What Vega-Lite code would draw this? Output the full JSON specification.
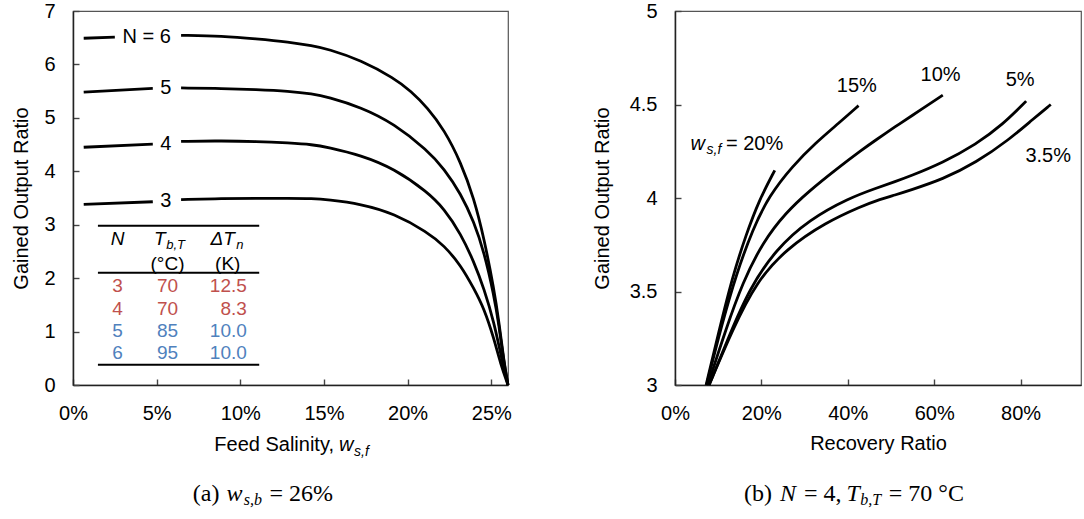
{
  "$schema": "https://vega.github.io/schema/vega-lite/v6.json",
  "padding": {"left": 11, "top": 0, "right": 0, "bottom": 0},
  "background": "white",
  "datasets": {
    "left_lines": [
      {"n": "6", "seg": "a", "ws": 0.0064, "gor": 6.49}, {"n": "6", "seg": "a", "ws": 0.025, "gor": 6.51},
      {"n": "6", "seg": "b", "ws": 0.0646, "gor": 6.545}, {"n": "6", "seg": "b", "ws": 0.0894, "gor": 6.53},
      {"n": "6", "seg": "b", "ws": 0.1093, "gor": 6.48}, {"n": "6", "seg": "b", "ws": 0.1292, "gor": 6.42},
      {"n": "6", "seg": "b", "ws": 0.1431, "gor": 6.35}, {"n": "6", "seg": "b", "ws": 0.1522, "gor": 6.29},
      {"n": "6", "seg": "b", "ws": 0.1721, "gor": 6.08}, {"n": "6", "seg": "b", "ws": 0.192, "gor": 5.74},
      {"n": "6", "seg": "b", "ws": 0.202, "gor": 5.5}, {"n": "6", "seg": "b", "ws": 0.2119, "gor": 5.19},
      {"n": "6", "seg": "b", "ws": 0.2218, "gor": 4.78}, {"n": "6", "seg": "b", "ws": 0.2318, "gor": 4.17},
      {"n": "6", "seg": "b", "ws": 0.2397, "gor": 3.49}, {"n": "6", "seg": "b", "ws": 0.2457, "gor": 2.74},
      {"n": "6", "seg": "b", "ws": 0.2516, "gor": 1.8}, {"n": "6", "seg": "b", "ws": 0.2546, "gor": 1.18},
      {"n": "6", "seg": "b", "ws": 0.2575, "gor": 0.45}, {"n": "6", "seg": "b", "ws": 0.26, "gor": 0},
      {"n": "5", "seg": "a", "ws": 0.0064, "gor": 5.48}, {"n": "5", "seg": "a", "ws": 0.0477, "gor": 5.55},
      {"n": "5", "seg": "b", "ws": 0.0646, "gor": 5.56}, {"n": "5", "seg": "b", "ws": 0.0894, "gor": 5.55},
      {"n": "5", "seg": "b", "ws": 0.1093, "gor": 5.53}, {"n": "5", "seg": "b", "ws": 0.1292, "gor": 5.5},
      {"n": "5", "seg": "b", "ws": 0.1431, "gor": 5.45}, {"n": "5", "seg": "b", "ws": 0.1522, "gor": 5.39},
      {"n": "5", "seg": "b", "ws": 0.1721, "gor": 5.2}, {"n": "5", "seg": "b", "ws": 0.192, "gor": 4.89},
      {"n": "5", "seg": "b", "ws": 0.2119, "gor": 4.39}, {"n": "5", "seg": "b", "ws": 0.2218, "gor": 4.05},
      {"n": "5", "seg": "b", "ws": 0.2318, "gor": 3.58}, {"n": "5", "seg": "b", "ws": 0.2397, "gor": 3.05},
      {"n": "5", "seg": "b", "ws": 0.2457, "gor": 2.49}, {"n": "5", "seg": "b", "ws": 0.2516, "gor": 1.68},
      {"n": "5", "seg": "b", "ws": 0.2546, "gor": 1.12}, {"n": "5", "seg": "b", "ws": 0.2575, "gor": 0.42},
      {"n": "5", "seg": "b", "ws": 0.26, "gor": 0},
      {"n": "4", "seg": "a", "ws": 0.0064, "gor": 4.45}, {"n": "4", "seg": "a", "ws": 0.0477, "gor": 4.51},
      {"n": "4", "seg": "b", "ws": 0.0646, "gor": 4.56}, {"n": "4", "seg": "b", "ws": 0.0894, "gor": 4.57},
      {"n": "4", "seg": "b", "ws": 0.1093, "gor": 4.56}, {"n": "4", "seg": "b", "ws": 0.1292, "gor": 4.53},
      {"n": "4", "seg": "b", "ws": 0.1431, "gor": 4.5}, {"n": "4", "seg": "b", "ws": 0.1522, "gor": 4.45},
      {"n": "4", "seg": "b", "ws": 0.1721, "gor": 4.3}, {"n": "4", "seg": "b", "ws": 0.192, "gor": 4.05},
      {"n": "4", "seg": "b", "ws": 0.2119, "gor": 3.61}, {"n": "4", "seg": "b", "ws": 0.2218, "gor": 3.3},
      {"n": "4", "seg": "b", "ws": 0.2318, "gor": 2.83}, {"n": "4", "seg": "b", "ws": 0.2397, "gor": 2.3},
      {"n": "4", "seg": "b", "ws": 0.2457, "gor": 1.8}, {"n": "4", "seg": "b", "ws": 0.2516, "gor": 1.18},
      {"n": "4", "seg": "b", "ws": 0.2565, "gor": 0.45}, {"n": "4", "seg": "b", "ws": 0.26, "gor": 0},
      {"n": "3", "seg": "a", "ws": 0.0064, "gor": 3.38}, {"n": "3", "seg": "a", "ws": 0.0477, "gor": 3.43},
      {"n": "3", "seg": "b", "ws": 0.0646, "gor": 3.47}, {"n": "3", "seg": "b", "ws": 0.0894, "gor": 3.49},
      {"n": "3", "seg": "b", "ws": 0.1093, "gor": 3.495}, {"n": "3", "seg": "b", "ws": 0.1292, "gor": 3.495},
      {"n": "3", "seg": "b", "ws": 0.1431, "gor": 3.49}, {"n": "3", "seg": "b", "ws": 0.1522, "gor": 3.47},
      {"n": "3", "seg": "b", "ws": 0.1721, "gor": 3.39}, {"n": "3", "seg": "b", "ws": 0.192, "gor": 3.21},
      {"n": "3", "seg": "b", "ws": 0.2119, "gor": 2.86}, {"n": "3", "seg": "b", "ws": 0.2218, "gor": 2.61},
      {"n": "3", "seg": "b", "ws": 0.2318, "gor": 2.24}, {"n": "3", "seg": "b", "ws": 0.2397, "gor": 1.8},
      {"n": "3", "seg": "b", "ws": 0.2457, "gor": 1.43}, {"n": "3", "seg": "b", "ws": 0.2516, "gor": 0.87},
      {"n": "3", "seg": "b", "ws": 0.2555, "gor": 0.4}, {"n": "3", "seg": "b", "ws": 0.26, "gor": 0}
    ],
    "table_rules": [
      {"ws": 0.0149, "ws2": 0.1113, "gor": 2.98},
      {"ws": 0.0149, "ws2": 0.1113, "gor": 2.1},
      {"ws": 0.0149, "ws2": 0.1113, "gor": 0.38}
    ],
    "left_notes": [
      {"role": "curve", "text": "N = 6", "ws": 0.044, "gor": 6.51},
      {"role": "curve", "text": "5", "ws": 0.0555, "gor": 5.55},
      {"role": "curve", "text": "4", "ws": 0.0555, "gor": 4.51},
      {"role": "curve", "text": "3", "ws": 0.0555, "gor": 3.44},
      {"role": "xtitle", "text": "Feed Salinity,", "ws": 0.156, "gor": -1.12},
      {"role": "xtitle-var", "text": "w", "ws": 0.159, "gor": -1.12},
      {"role": "xtitle-sub", "text": "s,f", "ws": 0.168, "gor": -1.25},
      {"role": "head", "text": "N", "ws": 0.0266, "gor": 2.74},
      {"role": "head", "text": "T", "ws": 0.0519, "gor": 2.74},
      {"role": "head", "text": "ΔT", "ws": 0.0895, "gor": 2.74},
      {"role": "head-sub", "text": "b,T", "ws": 0.0557, "gor": 2.62},
      {"role": "head-sub", "text": "n", "ws": 0.0975, "gor": 2.62},
      {"role": "unit", "text": "(°C)", "ws": 0.0565, "gor": 2.27},
      {"role": "unit", "text": "(K)", "ws": 0.0925, "gor": 2.27},
      {"role": "cell", "n": "3", "text": "3", "ws": 0.0266, "gor": 1.85},
      {"role": "cell", "n": "4", "text": "4", "ws": 0.0266, "gor": 1.43},
      {"role": "cell", "n": "5", "text": "5", "ws": 0.0266, "gor": 1.01},
      {"role": "cell", "n": "6", "text": "6", "ws": 0.0266, "gor": 0.59},
      {"role": "cell", "n": "3", "text": "70", "ws": 0.0565, "gor": 1.85},
      {"role": "cell", "n": "4", "text": "70", "ws": 0.0565, "gor": 1.43},
      {"role": "cell", "n": "5", "text": "85", "ws": 0.0565, "gor": 1.01},
      {"role": "cell", "n": "6", "text": "95", "ws": 0.0565, "gor": 0.59},
      {"role": "cell-right", "n": "3", "text": "12.5", "ws": 0.1039, "gor": 1.85},
      {"role": "cell-right", "n": "4", "text": "8.3", "ws": 0.1039, "gor": 1.43},
      {"role": "cell-right", "n": "5", "text": "10.0", "ws": 0.1039, "gor": 1.01},
      {"role": "cell-right", "n": "6", "text": "10.0", "ws": 0.1039, "gor": 0.59},
      {"role": "caption", "text": "(a)", "ws": 0.0716, "gor": -2.04},
      {"role": "caption-var", "text": "w", "ws": 0.0918, "gor": -2.04},
      {"role": "caption-sub", "text": "s,b", "ws": 0.102, "gor": -2.15},
      {"role": "caption", "text": "= 26%", "ws": 0.1175, "gor": -2.04}
    ],
    "right_lines": [
      {"wsf": "20%", "rr": 0.072, "gor": 3.0}, {"wsf": "20%", "rr": 0.103, "gor": 3.3},
      {"wsf": "20%", "rr": 0.134, "gor": 3.586}, {"wsf": "20%", "rr": 0.164, "gor": 3.8},
      {"wsf": "20%", "rr": 0.195, "gor": 3.99}, {"wsf": "20%", "rr": 0.231, "gor": 4.148},
      {"wsf": "15%", "rr": 0.073, "gor": 3.0}, {"wsf": "15%", "rr": 0.11, "gor": 3.337},
      {"wsf": "15%", "rr": 0.141, "gor": 3.586}, {"wsf": "15%", "rr": 0.18, "gor": 3.834},
      {"wsf": "15%", "rr": 0.218, "gor": 4.012}, {"wsf": "15%", "rr": 0.272, "gor": 4.171},
      {"wsf": "15%", "rr": 0.326, "gor": 4.296}, {"wsf": "15%", "rr": 0.38, "gor": 4.402},
      {"wsf": "15%", "rr": 0.425, "gor": 4.494},
      {"wsf": "10%", "rr": 0.076, "gor": 3.0}, {"wsf": "10%", "rr": 0.118, "gor": 3.3},
      {"wsf": "10%", "rr": 0.157, "gor": 3.55}, {"wsf": "10%", "rr": 0.203, "gor": 3.763},
      {"wsf": "10%", "rr": 0.257, "gor": 3.923}, {"wsf": "10%", "rr": 0.311, "gor": 4.038},
      {"wsf": "10%", "rr": 0.373, "gor": 4.153}, {"wsf": "10%", "rr": 0.434, "gor": 4.26},
      {"wsf": "10%", "rr": 0.465, "gor": 4.31}, {"wsf": "10%", "rr": 0.512, "gor": 4.385},
      {"wsf": "10%", "rr": 0.542, "gor": 4.43}, {"wsf": "10%", "rr": 0.62, "gor": 4.55},
      {"wsf": "5%", "rr": 0.079, "gor": 3.0}, {"wsf": "5%", "rr": 0.126, "gor": 3.266},
      {"wsf": "5%", "rr": 0.172, "gor": 3.514}, {"wsf": "5%", "rr": 0.234, "gor": 3.727},
      {"wsf": "5%", "rr": 0.311, "gor": 3.885}, {"wsf": "5%", "rr": 0.403, "gor": 4.0},
      {"wsf": "5%", "rr": 0.465, "gor": 4.052}, {"wsf": "5%", "rr": 0.512, "gor": 4.09},
      {"wsf": "5%", "rr": 0.542, "gor": 4.115}, {"wsf": "5%", "rr": 0.62, "gor": 4.189},
      {"wsf": "5%", "rr": 0.697, "gor": 4.287}, {"wsf": "5%", "rr": 0.759, "gor": 4.393},
      {"wsf": "5%", "rr": 0.813, "gor": 4.518},
      {"wsf": "3.5%", "rr": 0.079, "gor": 3.0}, {"wsf": "3.5%", "rr": 0.134, "gor": 3.3},
      {"wsf": "3.5%", "rr": 0.188, "gor": 3.55}, {"wsf": "3.5%", "rr": 0.257, "gor": 3.727},
      {"wsf": "3.5%", "rr": 0.349, "gor": 3.87}, {"wsf": "3.5%", "rr": 0.434, "gor": 3.958},
      {"wsf": "3.5%", "rr": 0.465, "gor": 3.985}, {"wsf": "3.5%", "rr": 0.512, "gor": 4.018},
      {"wsf": "3.5%", "rr": 0.542, "gor": 4.04}, {"wsf": "3.5%", "rr": 0.62, "gor": 4.1},
      {"wsf": "3.5%", "rr": 0.697, "gor": 4.189}, {"wsf": "3.5%", "rr": 0.774, "gor": 4.313},
      {"wsf": "3.5%", "rr": 0.828, "gor": 4.42}, {"wsf": "3.5%", "rr": 0.87, "gor": 4.5}
    ],
    "right_notes": [
      {"role": "curve", "text": "15%", "rr": 0.421, "gor": 4.597},
      {"role": "curve", "text": "10%", "rr": 0.615, "gor": 4.659},
      {"role": "curve", "text": "5%", "rr": 0.799, "gor": 4.631},
      {"role": "curve", "text": "3.5%", "rr": 0.864, "gor": 4.223},
      {"role": "curve-left", "text": "= 20%", "rr": 0.118, "gor": 4.29},
      {"role": "var", "text": "w", "rr": 0.036, "gor": 4.29},
      {"role": "var-sub", "text": "s,f", "rr": 0.073, "gor": 4.255},
      {"role": "caption", "text": "(b)", "rr": 0.1597, "gor": 2.417},
      {"role": "caption-var", "text": "N", "rr": 0.243, "gor": 2.417},
      {"role": "caption", "text": "= 4,", "rr": 0.2986, "gor": 2.417},
      {"role": "caption-var", "text": "T", "rr": 0.397, "gor": 2.417},
      {"role": "caption-sub", "text": "b,T", "rr": 0.429, "gor": 2.385},
      {"role": "caption", "text": "= 70 °C", "rr": 0.495, "gor": 2.417}
    ]
  },
  "config": {
    "font": "Liberation Sans",
    "view": {"stroke": "#555", "strokeWidth": 1.2},
    "axis": {
      "grid": false, "domainColor": "#222", "domainWidth": 1.5,
      "tickColor": "#444", "tickWidth": 1.4, "tickSize": -6,
      "labelFont": "Liberation Sans", "labelFontSize": 20, "labelColor": "#000",
      "labelPadding": 24, "labelFlush": false, "labelOverlap": false,
      "titleFont": "Liberation Sans", "titleFontSize": 20, "titleFontWeight": "normal", "titleColor": "#000"
    },
    "text": {"font": "Liberation Sans", "fontSize": 20, "color": "#000"},
    "line": {"color": "#000", "strokeWidth": 2.8, "interpolate": "basis"},
    "concat": {"spacing": 76}
  },
  "hconcat": [
    {
      "width": 435,
      "height": 374,
      "encoding": {
        "x": {"field": "ws", "type": "quantitative", "scale": {"domain": [0, 0.26], "nice": false, "zero": false},
              "axis": {"values": [0, 0.05, 0.1, 0.15, 0.2, 0.25], "format": ".0%", "title": null}},
        "y": {"field": "gor", "type": "quantitative", "scale": {"domain": [0, 7], "nice": false, "zero": false},
              "axis": {"values": [0, 1, 2, 3, 4, 5, 6, 7], "title": "Gained Output Ratio", "titlePadding": 12}}
      },
      "layer": [
        {"data": {"name": "left_lines"}, "mark": {"type": "line"},
         "encoding": {"detail": [{"field": "n"}, {"field": "seg"}], "order": {"field": "ws", "type": "quantitative"}}},
        {"data": {"name": "table_rules"}, "mark": {"type": "rule", "color": "#000", "strokeWidth": 2},
         "encoding": {"x2": {"field": "ws2"}}},
        {"data": {"name": "left_notes"}, "transform": [{"filter": "datum.role === 'curve'"}],
         "mark": {"type": "text", "align": "center", "baseline": "middle", "fontSize": 20},
         "encoding": {"text": {"field": "text"}}},
        {"data": {"name": "left_notes"}, "transform": [{"filter": "datum.role === 'xtitle'"}],
         "mark": {"type": "text", "align": "right", "baseline": "middle", "fontSize": 20},
         "encoding": {"text": {"field": "text"}}},
        {"data": {"name": "left_notes"}, "transform": [{"filter": "datum.role === 'xtitle-var'"}],
         "mark": {"type": "text", "align": "left", "baseline": "middle", "fontSize": 20, "fontStyle": "italic"},
         "encoding": {"text": {"field": "text"}}},
        {"data": {"name": "left_notes"}, "transform": [{"filter": "datum.role === 'xtitle-sub'"}],
         "mark": {"type": "text", "align": "left", "baseline": "middle", "fontSize": 14, "fontStyle": "italic"},
         "encoding": {"text": {"field": "text"}}},
        {"data": {"name": "left_notes"}, "transform": [{"filter": "datum.role === 'head'"}],
         "mark": {"type": "text", "align": "center", "baseline": "middle", "fontSize": 19, "fontStyle": "italic"},
         "encoding": {"text": {"field": "text"}}},
        {"data": {"name": "left_notes"}, "transform": [{"filter": "datum.role === 'head-sub'"}],
         "mark": {"type": "text", "align": "left", "baseline": "middle", "fontSize": 13, "fontStyle": "italic"},
         "encoding": {"text": {"field": "text"}}},
        {"data": {"name": "left_notes"}, "transform": [{"filter": "datum.role === 'unit'"}],
         "mark": {"type": "text", "align": "center", "baseline": "middle", "fontSize": 19},
         "encoding": {"text": {"field": "text"}}},
        {"data": {"name": "left_notes"}, "transform": [{"filter": "datum.role === 'cell'"}],
         "mark": {"type": "text", "align": "center", "baseline": "middle", "fontSize": 19},
         "encoding": {"text": {"field": "text"},
                      "color": {"field": "n", "type": "nominal", "legend": null,
                                "scale": {"domain": ["3", "4", "5", "6"], "range": ["#C0504D", "#C0504D", "#4F81BD", "#4F81BD"]}}}},
        {"data": {"name": "left_notes"}, "transform": [{"filter": "datum.role === 'cell-right'"}],
         "mark": {"type": "text", "align": "right", "baseline": "middle", "fontSize": 19},
         "encoding": {"text": {"field": "text"},
                      "color": {"field": "n", "type": "nominal", "legend": null,
                                "scale": {"domain": ["3", "4", "5", "6"], "range": ["#C0504D", "#C0504D", "#4F81BD", "#4F81BD"]}}}},
        {"data": {"name": "left_notes"}, "transform": [{"filter": "datum.role === 'caption'"}],
         "mark": {"type": "text", "align": "left", "baseline": "middle", "fontSize": 24, "font": "Liberation Serif"},
         "encoding": {"text": {"field": "text"}}},
        {"data": {"name": "left_notes"}, "transform": [{"filter": "datum.role === 'caption-var'"}],
         "mark": {"type": "text", "align": "left", "baseline": "middle", "fontSize": 24, "font": "Liberation Serif", "fontStyle": "italic"},
         "encoding": {"text": {"field": "text"}}},
        {"data": {"name": "left_notes"}, "transform": [{"filter": "datum.role === 'caption-sub'"}],
         "mark": {"type": "text", "align": "left", "baseline": "middle", "fontSize": 16, "font": "Liberation Serif", "fontStyle": "italic"},
         "encoding": {"text": {"field": "text"}}}
      ]
    },
    {
      "width": 406,
      "height": 374,
      "encoding": {
        "x": {"field": "rr", "type": "quantitative", "scale": {"domain": [0, 0.94], "nice": false, "zero": false},
              "axis": {"values": [0, 0.2, 0.4, 0.6, 0.8], "format": ".0%", "title": "Recovery Ratio", "titlePadding": 10}},
        "y": {"field": "gor", "type": "quantitative", "scale": {"domain": [3, 5], "nice": false, "zero": false},
              "axis": {"values": [3, 3.5, 4, 4.5, 5], "format": "~g", "title": "Gained Output Ratio", "titlePadding": 17}}
      },
      "layer": [
        {"data": {"name": "right_lines"}, "mark": {"type": "line"},
         "encoding": {"detail": {"field": "wsf"}, "order": {"field": "rr", "type": "quantitative"}}},
        {"data": {"name": "right_notes"}, "transform": [{"filter": "datum.role === 'curve'"}],
         "mark": {"type": "text", "align": "center", "baseline": "middle", "fontSize": 20},
         "encoding": {"text": {"field": "text"}}},
        {"data": {"name": "right_notes"}, "transform": [{"filter": "datum.role === 'curve-left'"}],
         "mark": {"type": "text", "align": "left", "baseline": "middle", "fontSize": 20},
         "encoding": {"text": {"field": "text"}}},
        {"data": {"name": "right_notes"}, "transform": [{"filter": "datum.role === 'var'"}],
         "mark": {"type": "text", "align": "left", "baseline": "middle", "fontSize": 20, "fontStyle": "italic"},
         "encoding": {"text": {"field": "text"}}},
        {"data": {"name": "right_notes"}, "transform": [{"filter": "datum.role === 'var-sub'"}],
         "mark": {"type": "text", "align": "left", "baseline": "middle", "fontSize": 14, "fontStyle": "italic"},
         "encoding": {"text": {"field": "text"}}},
        {"data": {"name": "right_notes"}, "transform": [{"filter": "datum.role === 'caption'"}],
         "mark": {"type": "text", "align": "left", "baseline": "middle", "fontSize": 24, "font": "Liberation Serif"},
         "encoding": {"text": {"field": "text"}}},
        {"data": {"name": "right_notes"}, "transform": [{"filter": "datum.role === 'caption-var'"}],
         "mark": {"type": "text", "align": "left", "baseline": "middle", "fontSize": 24, "font": "Liberation Serif", "fontStyle": "italic"},
         "encoding": {"text": {"field": "text"}}},
        {"data": {"name": "right_notes"}, "transform": [{"filter": "datum.role === 'caption-sub'"}],
         "mark": {"type": "text", "align": "left", "baseline": "middle", "fontSize": 16, "font": "Liberation Serif", "fontStyle": "italic"},
         "encoding": {"text": {"field": "text"}}}
      ]
    }
  ]
}
